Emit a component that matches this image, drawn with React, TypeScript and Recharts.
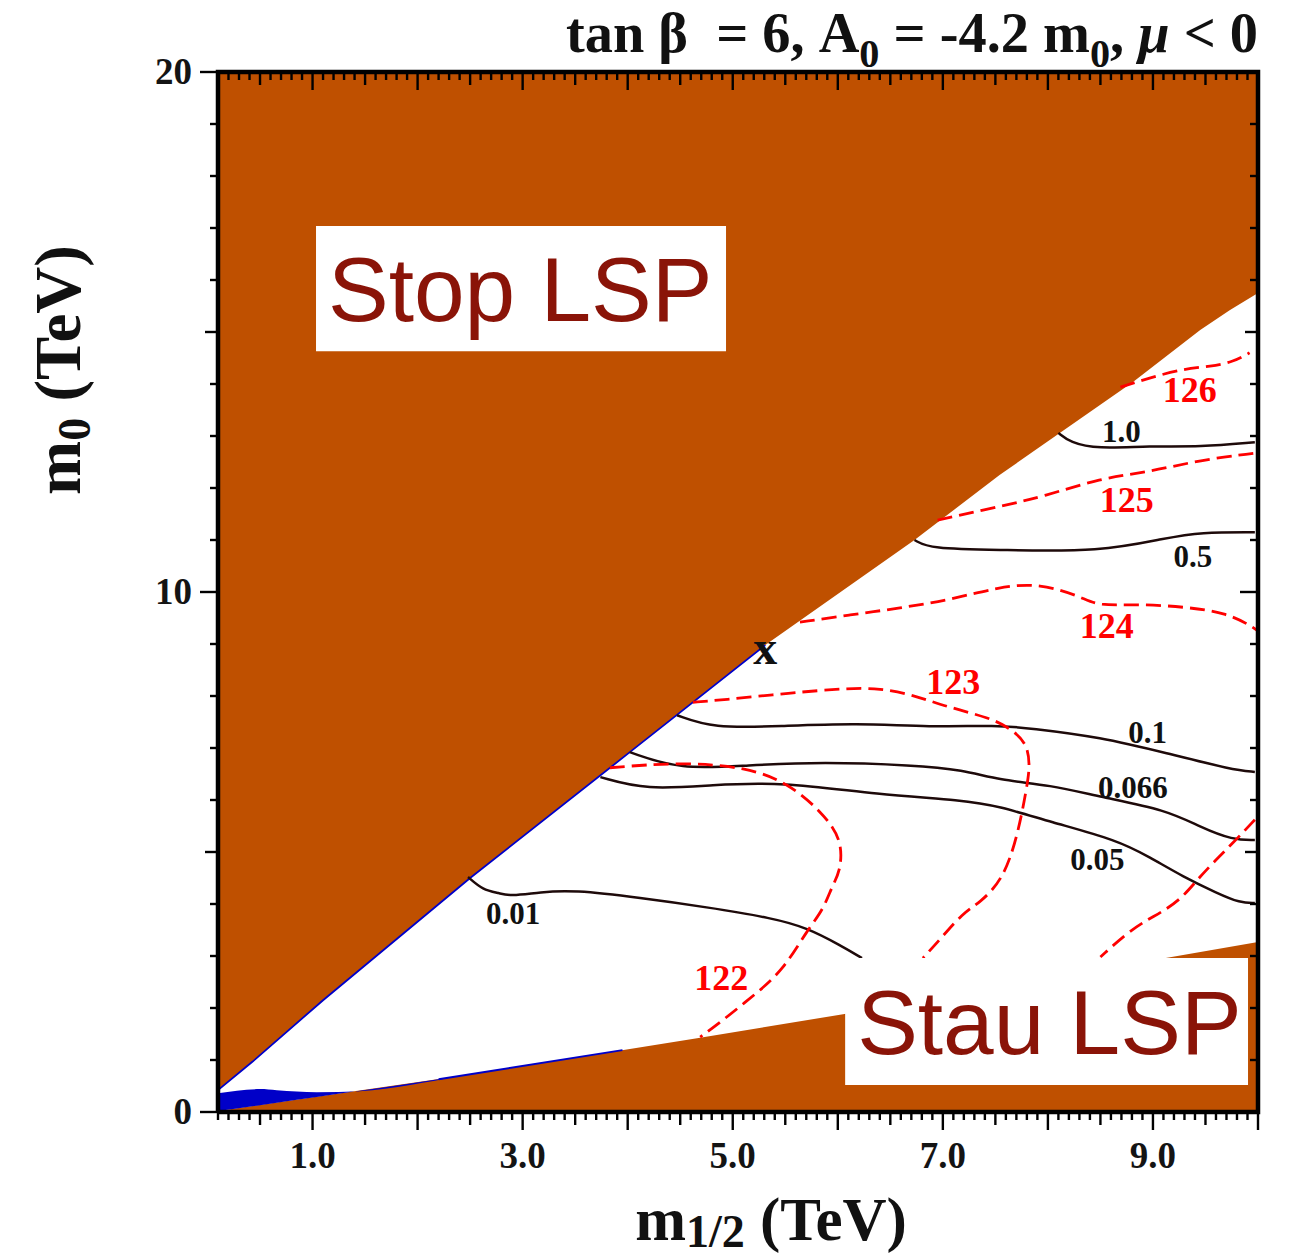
import React from 'react';
import { ComposedChart, XAxis, YAxis, Area, Line, Scatter, ReferenceArea } from 'recharts';

// ---------- styling constants ----------
const W = 1293;
const H = 1258;
const ORANGE = '#BF5000';
const BLUE = '#0000C8';
const INK = '#1E0A0A';
const RED = '#FF0000';
const LSP_TEXT = '#8A1408';
const SERIF = '"Liberation Serif", "Times New Roman", Times, serif';
const SANS = '"Liberation Sans", Arial, Helvetica, sans-serif';

// ---------- axes ----------
const M12_DOMAIN: [number, number] = [0.1, 10];
const M0_DOMAIN: [number, number] = [0, 20];
const xLabelTicks = [1, 3, 5, 7, 9];
const yLabelTicks = [0, 10, 20];
const xTicks = Array.from({ length: 100 }, (_, i) => (i + 1) / 10);
const yTicks = Array.from({ length: 21 }, (_, i) => i);

// ---------- excluded regions ----------
const stopM12 = [0.1, 0.43, 1.1, 2.5, 4.02, 5.31, 6.73, 7.54, 8.81, 9.45, 9.73, 10.0];
const stopM0 = [0.42, 0.97, 2.15, 4.5, 6.92, 8.98, 11.0, 12.25, 14.04, 15.04, 15.42, 15.75];
const stauM12 = [0.1, 0.31, 2.4, 4.66, 6.05, 10.0];
const stauM0 = [0.02, 0.08, 0.69, 1.42, 1.88, 3.27];
const blueM12 = [0.1, 0.5, 0.66, 1.04, 1.45, 1.93, 2.4];
const blueLow = [0.02, 0.13, 0.18, 0.29, 0.41, 0.55, 0.69];
const blueHigh = [0.36, 0.44, 0.42, 0.38, 0.4, 0.52, 0.69];
const blueStauM12 = [2.2, 3.95];
const blueStauM0 = [0.63, 1.19];

// ---------- Higgs mass contours (red dashed) ----------
const h126M12 = [8.69, 8.97, 9.29, 9.55, 9.76, 9.92];
const h126M0 = [13.94, 14.12, 14.29, 14.34, 14.42, 14.6];
const h125M12 = [6.95, 7.59, 7.95, 8.5, 8.97, 9.45, 9.97];
const h125M0 = [11.38, 11.67, 11.83, 12.19, 12.31, 12.54, 12.67];
const h124M12 = [5.64, 6.12, 6.59, 7.07, 7.54, 7.92, 8.33, 8.47, 8.88, 9.32, 9.7, 9.95, 10.0];
const h124M0 = [9.42, 9.56, 9.69, 9.85, 10.1, 10.17, 9.9, 9.73, 9.77, 9.71, 9.6, 9.33, 9.25];
const h123M12 = [4.62, 4.88, 5.55, 6.09, 6.4, 6.72, 7.04, 7.45, 7.64, 7.8, 7.83, 7.8, 7.71, 7.57, 7.35, 7.19, 6.97, 6.81];
const h123M0 = [7.88, 7.92, 8.06, 8.15, 8.15, 8.02, 7.79, 7.58, 7.38, 7.1, 6.67, 6.25, 5.29, 4.46, 4.02, 3.83, 3.31, 2.96];
const h122M12 = [3.83, 4.5, 5.14, 5.52, 5.83, 6.05, 6.02, 5.95, 5.86, 5.71, 5.48, 5.23, 4.91, 4.69];
const h122M0 = [6.62, 6.73, 6.63, 6.33, 5.81, 5.23, 4.6, 4.37, 3.88, 3.5, 2.73, 2.29, 1.77, 1.44];
const hRightM12 = [9.97, 9.76, 9.57, 9.42, 9.26, 9.07, 8.94, 8.75, 8.5];
const hRightM0 = [5.62, 5.17, 4.79, 4.46, 4.08, 3.83, 3.69, 3.44, 2.98];

// ---------- relic density contours (black solid) ----------
const o10M12 = [8.1, 8.21, 8.47, 8.97, 9.45, 9.97];
const o10M0 = [13.06, 12.88, 12.75, 12.81, 12.79, 12.88];
const o05M12 = [6.73, 6.88, 7.54, 8.5, 9.13, 9.45, 9.97];
const o05M0 = [11.0, 10.83, 10.81, 10.77, 11.04, 11.15, 11.15];
const o01M12 = [4.47, 4.81, 5.45, 6.18, 6.88, 7.52, 7.83, 8.5, 9.13, 9.76, 9.97];
const o01M0 = [7.63, 7.38, 7.42, 7.48, 7.4, 7.44, 7.38, 7.21, 6.9, 6.58, 6.54];
const o066M12 = [4.02, 4.5, 5.14, 5.86, 6.72, 7.19, 7.54, 8.02, 8.5, 9.13, 9.45, 9.76, 9.97];
const o066M0 = [6.92, 6.58, 6.67, 6.73, 6.67, 6.58, 6.38, 6.29, 6.06, 5.81, 5.48, 5.23, 5.23];
const o05bM12 = [3.74, 4.18, 4.81, 5.45, 6.4, 7.19, 7.54, 8.02, 8.66, 8.97, 9.29, 9.61, 9.83, 9.97];
const o05bM0 = [6.44, 6.19, 6.29, 6.35, 6.1, 6.0, 5.88, 5.58, 5.23, 4.9, 4.52, 4.21, 4.02, 4.02];
const o001M12 = [2.48, 2.62, 2.78, 2.88, 3.17, 3.48, 4.12, 4.75, 5.38, 5.71, 6.02, 6.23];
const o001M0 = [4.52, 4.27, 4.21, 4.15, 4.23, 4.27, 4.12, 3.94, 3.73, 3.54, 3.21, 2.96];

// ---------- contour labels ----------
const redLabelText = ['126', '125', '124', '123', '122'];
const redLabelM12 = [9.35, 8.75, 8.56, 7.1, 4.89];
const redLabelM0 = [13.88, 11.77, 9.35, 8.27, 2.58];
const blackLabelText = ['1.0', '0.5', '0.1', '0.066', '0.05', '0.01'];
const blackLabelM12 = [8.7, 9.38, 8.95, 8.81, 8.47, 2.91];
const blackLabelM0 = [13.08, 10.69, 7.29, 6.25, 4.85, 3.81];
const markerText = ['x'];
const markerM12 = [5.31];
const markerM0 = [8.92];

// ---------- region label boxes ----------
const stopBox = { x1: 1.033, x2: 4.936, y1: 14.63, y2: 17.04, text: 'Stop LSP' };
const stauBox = { x1: 6.07, x2: 9.905, y1: 0.52, y2: 2.96, text: 'Stau LSP' };

// frame corners (drawn on the mirrored top/right axes)
const frameM12 = [0.1, 10, 10, 0.1, 0.1];
const frameM0 = [0, 0, 20, 20, 0];

const pts = (xs: number[], ys: number[]) => xs.map((m, i) => ({ m, v: ys[i] }));
const bandPts = (xs: number[], lo: number[], hi: number[]) =>
  xs.map((m, i) => ({ m, range: [lo[i], hi[i]] }));
const labelPts = (xs: number[], ys: number[], t: string[]) =>
  xs.map((m, i) => ({ m, v: ys[i], t: t[i] }));

const stopData = bandPts(stopM12, stopM0, stopM12.map(() => M0_DOMAIN[1]));
const stauData = bandPts(stauM12, stauM12.map(() => M0_DOMAIN[0]), stauM0);
const blueData = bandPts(blueM12, blueLow, blueHigh);

const higgs = [
  pts(h126M12, h126M0),
  pts(h125M12, h125M0),
  pts(h124M12, h124M0),
  pts(h123M12, h123M0),
  pts(h122M12, h122M0),
  pts(hRightM12, hRightM0),
];
const relic = [
  pts(o10M12, o10M0),
  pts(o05M12, o05M0),
  pts(o01M12, o01M0),
  pts(o066M12, o066M0),
  pts(o05bM12, o05bM0),
  pts(o001M12, o001M0),
];

const isNear = (list: number[], v: number) => list.some((t) => Math.abs(t - v) < 1e-6);
const xLen = (v: number) => {
  const k = Math.round(v * 10);
  return k % 10 === 0 ? 18 : k % 5 === 0 ? 13 : 8;
};
const yLen = (v: number) => (v % 10 === 0 ? 18 : v % 5 === 0 ? 13 : 8);

const tickFont = { fontFamily: SERIF, fontWeight: 700, fontSize: 37, fill: '#141414' } as const;

function BottomTick(p: any) {
  const v = p.payload.value as number;
  return (
    <g>
      <line x1={p.x} x2={p.x} y1={p.y} y2={p.y + xLen(v)} stroke="#000" strokeWidth={2.4} />
      {isNear(xLabelTicks, v) && (
        <text x={p.x} y={p.y + 56} textAnchor="middle" {...tickFont}>
          {v.toFixed(1)}
        </text>
      )}
    </g>
  );
}
function TopTick(p: any) {
  const v = p.payload.value as number;
  return <line x1={p.x} x2={p.x} y1={p.y} y2={p.y + xLen(v)} stroke="#000" strokeWidth={2.4} />;
}
function LeftTick(p: any) {
  const v = p.payload.value as number;
  return (
    <g>
      <line x1={p.x - yLen(v)} x2={p.x} y1={p.y} y2={p.y} stroke="#000" strokeWidth={2.4} />
      {isNear(yLabelTicks, v) && (
        <text x={p.x - 26} y={p.y + 12} textAnchor="end" {...tickFont}>
          {String(v)}
        </text>
      )}
    </g>
  );
}
function RightTick(p: any) {
  const v = p.payload.value as number;
  return <line x1={p.x - yLen(v)} x2={p.x} y1={p.y} y2={p.y} stroke="#000" strokeWidth={2.4} />;
}

const xTitle = () => (
  <text x={771} y={1240} textAnchor="middle" fontFamily={SERIF} fontWeight={700} fontSize={61} fill="#111">
    m<tspan fontSize={46} dy={7}>1/2</tspan>
    <tspan dy={-7}> (TeV)</tspan>
  </text>
);
const yTitle = () => (
  <text
    transform="translate(80,370) rotate(-90)"
    textAnchor="middle"
    fontFamily={SERIF}
    fontWeight={700}
    fontSize={65}
    fill="#111"
  >
    m<tspan fontSize={46} dy={10}>0</tspan>
    <tspan dy={-10}> (TeV)</tspan>
  </text>
);
const topTitle = () => (
  <text
    x={1258}
    y={52}
    textAnchor="end"
    fontFamily={SERIF}
    fontWeight={700}
    fontSize={56}
    fill="#111"
    textLength={692}
    lengthAdjust="spacingAndGlyphs"
    style={{ whiteSpace: 'pre' }}
  >
    {'tan β  = 6, A'}
    <tspan fontSize={40} dy={15}>0</tspan>
    <tspan dy={-15}>{' = -4.2 m'}</tspan>
    <tspan fontSize={40} dy={15}>0</tspan>
    <tspan dy={-15}>{', '}</tspan>
    <tspan fontStyle="italic">μ</tspan>
    <tspan>{' < 0'}</tspan>
  </text>
);

const boxLabel = (text: string) => (props: any) => {
  const vb = props.viewBox || {};
  return (
    <text x={vb.x + 12} y={vb.y + vb.height * 0.755} fontFamily={SANS} fontSize={91} fill={LSP_TEXT}>
      {text}
    </text>
  );
};

const textShape = (size: number, color: string) => (p: any) => (
  <text
    x={p.cx}
    y={p.cy + size * 0.34}
    textAnchor="middle"
    fontFamily={SERIF}
    fontWeight={700}
    fontSize={size}
    fill={color}
  >
    {p.payload.t}
  </text>
);

export default function App() {
  return (
    <div style={{ position: 'absolute', left: 0, top: 0, width: W, height: H, background: '#fff' }}>
      <ComposedChart width={W} height={H} margin={{ top: 71, right: 0, bottom: 0, left: 0 }}>
        <XAxis
          xAxisId="b"
          type="number"
          dataKey="m"
          domain={M12_DOMAIN}
          allowDataOverflow
          ticks={xTicks}
          interval={0}
          tickSize={0}
          tickMargin={0}
          axisLine={false}
          tickLine={false}
          tick={BottomTick}
          height={146}
          label={xTitle}
        />
        <XAxis
          xAxisId="t"
          orientation="top"
          type="number"
          dataKey="m"
          domain={M12_DOMAIN}
          ticks={xTicks}
          interval={0}
          tickSize={0}
          tickMargin={0}
          axisLine={false}
          tickLine={false}
          tick={TopTick}
          height={1}
          label={topTitle}
        />
        <YAxis
          yAxisId="l"
          type="number"
          dataKey="v"
          domain={M0_DOMAIN}
          allowDataOverflow
          ticks={yTicks}
          interval={0}
          tickSize={0}
          tickMargin={0}
          axisLine={false}
          tickLine={false}
          tick={LeftTick}
          width={218}
          label={yTitle}
        />
        <YAxis
          yAxisId="r"
          orientation="right"
          type="number"
          domain={M0_DOMAIN}
          ticks={yTicks}
          interval={0}
          tickSize={0}
          tickMargin={0}
          axisLine={false}
          tickLine={false}
          tick={RightTick}
          width={35}
        />

        <Area
          xAxisId="b"
          yAxisId="l"
          data={stopData}
          dataKey="range"
          type="linear"
          stroke="none"
          fill={ORANGE}
          fillOpacity={1}
          isAnimationActive={false}
          zIndex={100}
        />
        <Area
          xAxisId="b"
          yAxisId="l"
          data={stauData}
          dataKey="range"
          type="linear"
          stroke="none"
          fill={ORANGE}
          fillOpacity={1}
          isAnimationActive={false}
          zIndex={100}
        />
        <Area
          xAxisId="b"
          yAxisId="l"
          data={blueData}
          dataKey="range"
          type="monotone"
          stroke="none"
          fill={BLUE}
          fillOpacity={1}
          isAnimationActive={false}
          zIndex={110}
        />
        <Line
          xAxisId="b"
          yAxisId="l"
          data={pts(stopM12.slice(0, 6), stopM0.slice(0, 6))}
          dataKey="v"
          type="linear"
          stroke={BLUE}
          strokeWidth={1.8}
          dot={false}
          activeDot={false}
          isAnimationActive={false}
        />
        <Line
          xAxisId="b"
          yAxisId="l"
          data={pts(blueStauM12, blueStauM0)}
          dataKey="v"
          type="linear"
          stroke={BLUE}
          strokeWidth={2}
          dot={false}
          activeDot={false}
          isAnimationActive={false}
        />
        {relic.map((d, i) => (
          <Line
            key={'r' + i}
            xAxisId="b"
            yAxisId="l"
            data={d}
            dataKey="v"
            type="basis"
            stroke={INK}
            strokeWidth={2.5}
            dot={false}
            activeDot={false}
            isAnimationActive={false}
          />
        ))}
        {higgs.map((d, i) => (
          <Line
            key={'h' + i}
            xAxisId="b"
            yAxisId="l"
            data={d}
            dataKey="v"
            type="basis"
            stroke={RED}
            strokeWidth={2.8}
            strokeDasharray="15 7"
            dot={false}
            activeDot={false}
            isAnimationActive={false}
          />
        ))}
        <ReferenceArea
          xAxisId="b"
          yAxisId="l"
          x1={stopBox.x1}
          x2={stopBox.x2}
          y1={stopBox.y1}
          y2={stopBox.y2}
          fill="#fff"
          fillOpacity={1}
          stroke="none"
          label={boxLabel(stopBox.text)}
          zIndex={450}
        />
        <ReferenceArea
          xAxisId="b"
          yAxisId="l"
          x1={stauBox.x1}
          x2={stauBox.x2}
          y1={stauBox.y1}
          y2={stauBox.y2}
          fill="#fff"
          fillOpacity={1}
          stroke="none"
          label={boxLabel(stauBox.text)}
          zIndex={450}
        />
        <Line
          xAxisId="t"
          yAxisId="r"
          data={pts(frameM12, frameM0)}
          dataKey="v"
          type="linear"
          stroke="#000"
          strokeWidth={4.5}
          strokeLinejoin="miter"
          dot={false}
          activeDot={false}
          isAnimationActive={false}
          zIndex={700}
        />
        <Scatter
          xAxisId="b"
          yAxisId="l"
          data={labelPts(redLabelM12, redLabelM0, redLabelText)}
          dataKey="v"
          shape={textShape(36, RED)}
          isAnimationActive={false}
        />
        <Scatter
          xAxisId="b"
          yAxisId="l"
          data={labelPts(blackLabelM12, blackLabelM0, blackLabelText)}
          dataKey="v"
          shape={textShape(31, '#111')}
          isAnimationActive={false}
        />
        <Scatter
          xAxisId="b"
          yAxisId="l"
          data={labelPts(markerM12, markerM0, markerText)}
          dataKey="v"
          shape={textShape(48, '#111')}
          isAnimationActive={false}
        />
      </ComposedChart>
    </div>
  );
}
